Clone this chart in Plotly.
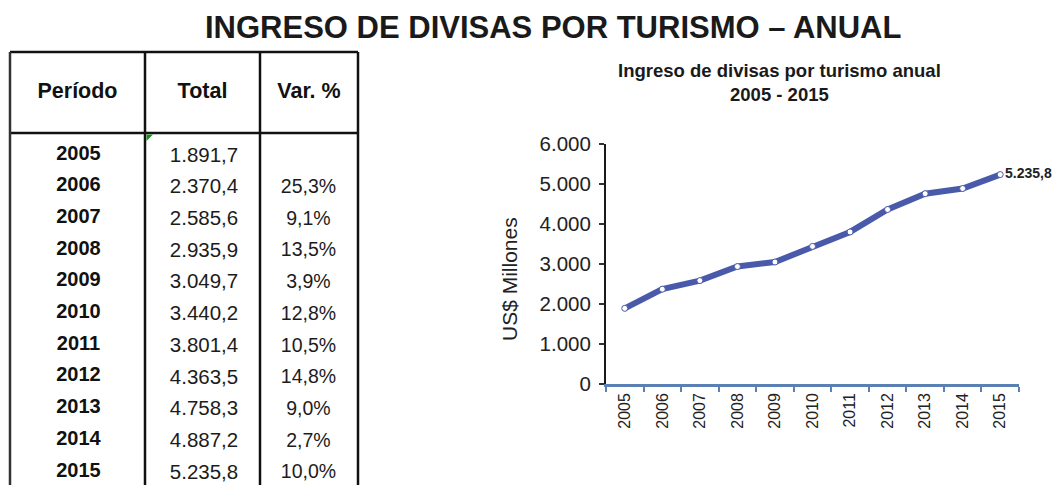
import plotly.graph_objects as go

# ---------------- data ----------------
years = ["2005", "2006", "2007", "2008", "2009", "2010", "2011", "2012", "2013", "2014", "2015"]
totals = [1891.7, 2370.4, 2585.6, 2935.9, 3049.7, 3440.2, 3801.4, 4363.5, 4758.3, 4887.2, 5235.8]
var_pct = [None, 25.3, 9.1, 13.5, 3.9, 12.8, 10.5, 14.8, 9.0, 2.7, 10.0]
headers = ["Período", "Total", "Var. %"]

W, H = 1053, 485
FONT = "Liberation Sans, Arial, sans-serif"
LINE_BLUE = "#4a5aab"
AXIS_BLUE = "#5b80b4"


def fmt_es(v, dec=1):
    s = f"{v:,.{dec}f}"
    return s.replace(",", "X").replace(".", ",").replace("X", ".")


fig = go.Figure()

# ---------------- table (pixel-unit helper axes) ----------------
col_edges = [10, 145, 260, 358]
col_centers = [(col_edges[i] + col_edges[i + 1]) / 2 for i in range(3)]
row0, row_h = 156.5, 31.7
row_y = [row0 + i * row_h for i in range(len(years))]

fig.add_trace(go.Scatter(
    x=col_centers, y=[93, 93, 93], text=headers, mode="text",
    textfont=dict(family=FONT, size=21.5, color="#111111", weight="bold"),
    xaxis="x2", yaxis="y2", hoverinfo="skip", showlegend=False, cliponaxis=False))

fig.add_trace(go.Scatter(
    x=[col_centers[0] + 1] * len(years), y=[y - 2 for y in row_y], text=years, mode="text",
    textfont=dict(family=FONT, size=20, color="#111111", weight="bold"),
    xaxis="x2", yaxis="y2", hoverinfo="skip", showlegend=False, cliponaxis=False))

fig.add_trace(go.Scatter(
    x=[col_centers[1] + 1.5] * len(years), y=row_y, text=[fmt_es(v) for v in totals], mode="text",
    textfont=dict(family=FONT, size=20.5, color="#1c1c1c"),
    xaxis="x2", yaxis="y2", hoverinfo="skip", showlegend=False, cliponaxis=False))

fig.add_trace(go.Scatter(
    x=[col_centers[2] - 0.5] * len(years), y=row_y,
    text=["" if v is None else fmt_es(v) + "%" for v in var_pct], mode="text",
    textfont=dict(family=FONT, size=19.5, color="#1c1c1c"),
    xaxis="x2", yaxis="y2", hoverinfo="skip", showlegend=False, cliponaxis=False))

shapes = []
for yv in (52, 133):
    shapes.append(dict(type="line", xref="x2", yref="y2", x0=col_edges[0], x1=col_edges[-1],
                       y0=yv, y1=yv, line=dict(color="#111111", width=2.5)))
for i, xv in enumerate(col_edges):
    shapes.append(dict(type="line", xref="x2", yref="y2", x0=xv, x1=xv, y0=52, y1=H,
                       line=dict(color="#333333" if i == 0 else "#111111", width=2.5)))
shapes.append(dict(type="path", xref="x2", yref="y2",
                   path="M 146.5 134.5 L 153 134.5 L 146.5 141 Z",
                   fillcolor="#1f8a1f", line=dict(width=0)))

# ---------------- line chart ----------------
labels = [""] * (len(totals) - 1) + [fmt_es(totals[-1])]
fig.add_trace(go.Scatter(
    x=years, y=totals, mode="lines+markers+text",
    line=dict(color=LINE_BLUE, width=6),
    marker=dict(symbol="circle", size=6, color="white", line=dict(color=LINE_BLUE, width=1)),
    text=labels, textposition="middle right",
    textfont=dict(family=FONT, size=14, color="#222222", weight="bold"),
    cliponaxis=False, showlegend=False, hoverinfo="skip"))

x0p, x1p = 606, 1019
y0p, y1p = 384, 144

fig.update_layout(
    width=W, height=H, autosize=False,
    margin=dict(l=0, r=0, t=0, b=0, pad=0, autoexpand=False),
    paper_bgcolor="white", plot_bgcolor="white",
    separators=",.",
    font=dict(family=FONT, color="#222222"),
    shapes=shapes,
    xaxis=dict(
        domain=[x0p / W, x1p / W], type="category", range=[-0.5, 10.5], automargin=False,
        showgrid=False, zeroline=False, showline=True, linecolor=AXIS_BLUE, linewidth=2.5,
        ticks="outside", tickson="boundaries", ticklen=5, tickwidth=2, tickcolor=AXIS_BLUE,
        tickangle=-90, tickfont=dict(family=FONT, size=16, color="#222222"),
        fixedrange=True),
    yaxis=dict(
        domain=[1 - y0p / H, 1 - y1p / H], range=[0, 6000], automargin=False,
        tickvals=[0, 1000, 2000, 3000, 4000, 5000, 6000], tickformat=",d",
        showgrid=False, zeroline=False, showline=True, linecolor="#1a1a1a", linewidth=2,
        ticks="outside", ticklen=5, tickwidth=2, tickcolor="#333333",
        tickfont=dict(family=FONT, size=20.5, color="#222222"), ticklabelstandoff=4,
        fixedrange=True),
    xaxis2=dict(domain=[0, 0.36], range=[0, 0.36 * W], visible=False, fixedrange=True,
                anchor="y2", automargin=False),
    yaxis2=dict(domain=[0, 1], range=[H, 0], visible=False, fixedrange=True, anchor="x2",
                automargin=False),
    annotations=[
        dict(text="INGRESO DE DIVISAS POR TURISMO – ANUAL", xref="paper", yref="paper",
             x=552.5 / W, y=1 - 27 / H, xanchor="center", yanchor="middle", showarrow=False,
             font=dict(family=FONT, size=31, color="#1a1a1a", weight="bold")),
        dict(text="Ingreso de divisas por turismo anual<br>2005 - 2015", xref="paper", yref="paper",
             x=779 / W, y=1 - 82 / H, xanchor="center", yanchor="middle", showarrow=False,
             font=dict(family=FONT, size=18.5, color="#1a1a1a", weight="bold")),
        dict(text="US$ Millones", xref="paper", yref="paper", textangle=-90,
             x=509 / W, y=1 - 279 / H, xanchor="center", yanchor="middle", showarrow=False,
             font=dict(family=FONT, size=21, color="#222222")),
    ],
)

fig.write_html("out.html", config={"displayModeBar": False},
               post_script="document.body.style.margin='0';document.body.style.overflow='hidden';")
